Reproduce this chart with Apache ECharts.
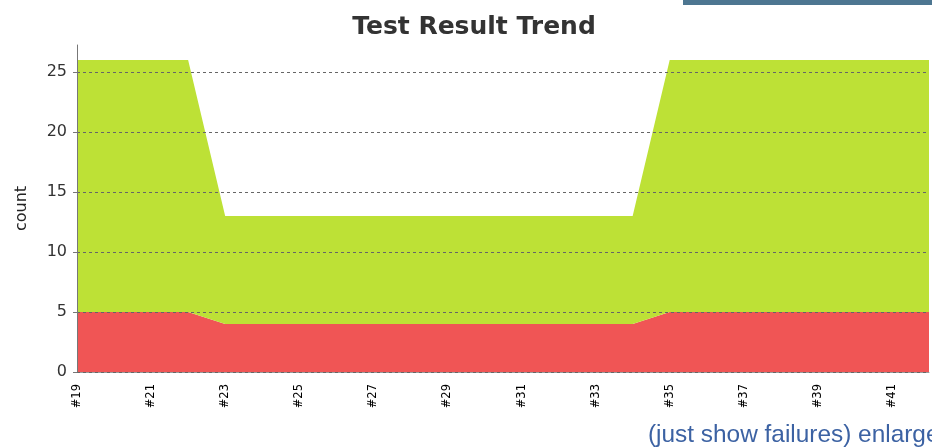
<!DOCTYPE html>
<html>
<head>
<meta charset="utf-8">
<script src="https://cdn.jsdelivr.net/npm/echarts@6/dist/echarts.min.js"></script>
<style>
html,body{margin:0;padding:0;background:#fff;}
#c{width:932px;height:447px;}
</style>
</head>
<body>
<div id="c"></div>
<script>
const builds = ['#19','#20','#21','#22','#23','#24','#25','#26','#27','#28','#29','#30','#31','#32','#33','#34','#35','#36','#37','#38','#39','#40','#41','#42'];
const failed = [5,5,5,5,4,4,4,4,4,4,4,4,4,4,4,4,5,5,5,5,5,5,5,5];
const passed = [21,21,21,21,9,9,9,9,9,9,9,9,9,9,9,9,21,21,21,21,21,21,21,21];
const yTicks = [0,5,10,15,20,25];

const chart = echarts.init(document.getElementById('c'));
chart.setOption({
  animation: false,
  backgroundColor: '#fff',
  title: {
    text: 'Test Result Trend',
    left: 469, top: 10, textAlign: 'center',
    textStyle: {fontFamily: 'DejaVu Sans', fontSize: 25, fontWeight: 'bold', color: '#333'}
  },
  graphic: [
    {type: 'rect', shape: {x: 683, y: 0, width: 249, height: 5}, style: {fill: '#4d7691'}},
    {type: 'text', x: 648, y: 435, style: {text: '(just show failures) enlarge', fill: '#3c62a3', font: '24.4px "Liberation Sans"', textVerticalAlign: 'middle'}}
  ],
  grid: {left: 77, right: 3, top: 45, bottom: 75},
  xAxis: {
    type: 'category', data: builds, boundaryGap: false,
    axisLine: {lineStyle: {color: '#999', width: 1}},
    axisTick: {show: false},
    axisLabel: {rotate: 90, interval: 1, color: '#000', fontFamily: 'DejaVu Sans', fontSize: 11.5, margin: 12}
  },
  yAxis: {
    type: 'value', min: 0, max: 27.25, interval: 5, z: 5,
    name: 'count', nameLocation: 'middle', nameGap: 47, nameRotate: 90,
    nameTextStyle: {fontFamily: 'DejaVu Sans', fontSize: 16, color: '#222'},
    axisLine: {show: true, lineStyle: {color: '#777'}},
    axisTick: {show: true, length: 4, lineStyle: {color: '#777'}},
    axisLabel: {showMaxLabel: false, color: '#333', fontFamily: 'DejaVu Sans', fontSize: 16, margin: 10,
      formatter: v => yTicks.includes(v) ? String(v) : ''},
    splitLine: {show: true, showMaxLine: false, lineStyle: {color: '#666', type: [3, 3], width: 1}}
  },
  series: [
    {name: 'failed', type: 'line', stack: 'a', data: failed, symbol: 'none', lineStyle: {width: 0},
      areaStyle: {color: '#f05555', opacity: 1}, z: 2},
    {name: 'passed', type: 'line', stack: 'a', data: passed, symbol: 'none', lineStyle: {width: 0},
      areaStyle: {color: '#bde136', opacity: 1}, z: 2}
  ]
});
</script>
</body>
</html>
